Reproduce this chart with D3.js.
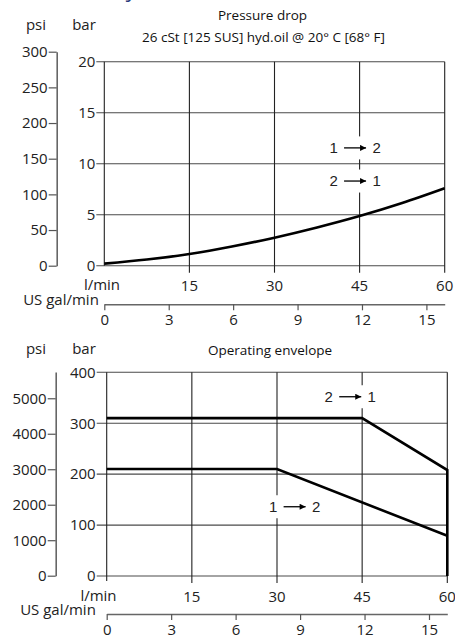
<!DOCTYPE html>
<html><head><meta charset="utf-8">
<script src="https://cdn.jsdelivr.net/npm/d3@7"></script>
<style>body{margin:0;background:#fff} svg{display:block}</style>
</head><body>
<script>
// ---------- data ----------
const flowLmin = [0, 7.5, 15, 22.5, 30, 37.5, 45, 52.5, 60];
const pressureDropBar = [0.2, 0.6, 1.15, 1.88, 2.75, 3.75, 4.87, 6.15, 7.6];
const env21Flow = [0, 45, 60, 60];
const env21Bar = [310, 310, 208, 0];
const env12Flow = [0, 30, 60];
const env12Bar = [210, 210, 79];
const xTicksLmin = [15, 30, 45, 60];
const galTicks = [0, 3, 6, 9, 12, 15];
const topBarTicks = [0, 5, 10, 15, 20];
const topPsiTicks = [0, 50, 100, 150, 200, 250, 300];
const botBarTicks = [0, 100, 200, 300, 400];
const botPsiTicks = [0, 1000, 2000, 3000, 4000, 5000];
const LPM_PER_GAL = 3.785;
const topTitle = "Pressure drop";
const topSubtitle = "26 cSt [125 SUS] hyd.oil @ 20° C [68° F]";
const botTitle = "Operating envelope";

const W = 455, H = 637;
const FONT = "'Open Sans', 'DejaVu Sans', sans-serif";
const NARROW = "'Liberation Sans Narrow', 'Liberation Sans', Arial, sans-serif";

const svg = d3.select("body").append("svg").attr("width", W).attr("height", H)
  .style("font-family", FONT);

svg.append("defs").append("marker")
  .attr("id", "ah").attr("viewBox", "0 0 10 10").attr("refX", 10).attr("refY", 5)
  .attr("markerWidth", 7).attr("markerHeight", 6).attr("markerUnits", "userSpaceOnUse")
  .attr("orient", "auto")
  .append("path").attr("d", "M0,0 L10,5 L0,10 z").attr("fill", "#000");

// blue fragment of heading above (cropped)
svg.append("text").attr("x", 128).attr("y", -3).attr("font-size", 22)
  .attr("font-style", "italic").attr("fill", "#2a3a7c").text("y");

function panel(cfg) {
  const g = svg.append("g");
  const x = d3.scaleLinear().domain([0, 60]).range(cfg.xr);
  const y = d3.scaleLinear().domain(cfg.barDom).range(cfg.yr);
  const psi = d3.scaleLinear().domain(cfg.psiDom).range(cfg.psiR);
  const gal = d3.scaleLinear().domain([0, 60 / LPM_PER_GAL]).range(cfg.xr);
  const y0 = y(0), yTop = y(cfg.barDom[1]);

  g.append("g").selectAll("line").data(cfg.barTicks).join("line")
    .attr("x1", x(0) - cfg.barTick).attr("x2", x(60))
    .attr("y1", d => y(d)).attr("y2", d => y(d))
    .attr("stroke", "#4a4a4a").attr("stroke-width", 1.1);
  g.append("g").selectAll("line").data([0, ...xTicksLmin]).join("line")
    .attr("x1", d => x(d)).attr("x2", d => x(d))
    .attr("y1", yTop).attr("y2", d => d === 0 ? y0 + cfg.zeroExt : y0 + 7)
    .attr("stroke", "#222").attr("stroke-width", 1.1);

  const barAx = d3.axisLeft(y).tickValues(cfg.barTicks).tickSize(0).tickPadding(cfg.barTick + 1)
    .tickFormat(d3.format("d"));
  const ba = g.append("g").attr("transform", `translate(${x(0)},0)`).call(barAx);
  ba.select(".domain").remove();
  ba.selectAll("text").attr("font-size", 15).attr("font-family", FONT).attr("fill", "#222");

  const psiAx = d3.axisLeft(psi).tickValues(cfg.psiTicks).tickSize(8).tickPadding(1).tickSizeOuter(0)
    .tickFormat(d3.format("d"));
  const pa = g.append("g").attr("transform", `translate(${cfg.psiX},0)`).call(psiAx);
  pa.select(".domain").attr("stroke", "#666").attr("stroke-width", 1.6);
  pa.selectAll(".tick line").attr("stroke", "#555").attr("stroke-width", 1.2);
  pa.selectAll("text").attr("font-size", 15).attr("font-family", FONT).attr("fill", "#222");

  g.append("g").selectAll("text").data(xTicksLmin).join("text")
    .attr("x", d => x(d)).attr("y", cfg.xLabY).attr("dy", "0.36em")
    .attr("text-anchor", "middle").attr("font-size", 15).attr("fill", "#222").text(d => d);
  g.append("text").attr("x", cfg.lminX).attr("y", cfg.xLabY - 1).attr("dy", "0.36em")
    .attr("text-anchor", "middle").attr("font-size", 15).attr("fill", "#222").text("l/min");

  const galAx = d3.axisBottom(gal).tickValues(galTicks).tickSize(6).tickPadding(4).tickSizeOuter(0)
    .tickFormat(d3.format("d"));
  const ga = g.append("g").attr("transform", `translate(0,${cfg.galY})`).call(galAx);
  ga.select(".domain").attr("stroke", "#666").attr("stroke-width", 1.6);
  ga.selectAll(".tick line").attr("stroke", "#555").attr("stroke-width", 1.2);
  ga.selectAll("text").attr("font-size", 15).attr("font-family", FONT).attr("fill", "#222");
  g.append("text").attr("x", cfg.galLabX).attr("y", cfg.galY).attr("dy", "0.05em")
    .attr("text-anchor", "middle").attr("font-size", 15).attr("fill", "#222").text("US gal/min");

  g.append("text").attr("x", 36).attr("y", cfg.unitY).attr("text-anchor", "middle")
    .attr("font-size", 15).attr("fill", "#222").text("psi");
  g.append("text").attr("x", 84).attr("y", cfg.unitY).attr("text-anchor", "middle")
    .attr("font-size", 15).attr("fill", "#222").text("bar");

  cfg.titles.forEach(t => g.append("text").attr("x", t[0]).attr("y", t[1])
    .attr("text-anchor", "middle").attr("font-size", 13.5).attr("fill", "#111").text(t[2]));

  return {g, x, y};
}

function arrowLabel(g, cx, cy, a, b) {
  const grp = g.append("g").attr("transform", `translate(${cx},${cy})`);
  grp.append("rect").attr("x", -31).attr("y", -11.5).attr("width", 62).attr("height", 23).attr("fill", "#fff");
  grp.append("text").attr("x", -21.5).attr("dy", "0.36em").attr("text-anchor", "middle")
    .attr("font-family", NARROW).attr("font-size", 15).attr("fill", "#222").text(a);
  grp.append("text").attr("x", 21.5).attr("dy", "0.36em").attr("text-anchor", "middle")
    .attr("font-family", NARROW).attr("font-size", 15).attr("fill", "#222").text(b);
  grp.append("line").attr("x1", -11).attr("x2", 11).attr("y1", 0).attr("y2", 0)
    .attr("stroke", "#000").attr("stroke-width", 1.3).attr("marker-end", "url(#ah)");
}

// ---------- top: pressure drop ----------
const pTop = panel({
  xr: [104.3, 444.7], barDom: [0, 20], yr: [265.7, 61.7],
  psiDom: [0, 300], psiR: [265.7, 51.7], psiX: 56.7,
  barTicks: topBarTicks, psiTicks: topPsiTicks, barTick: 8,
  zeroExt: 0, xLabY: 286, lminX: 102, galY: 304.3, galLabX: 61,
  unitY: 30, titles: [[262.5, 20, topTitle], [263.5, 42, topSubtitle]]
});
arrowLabel(pTop.g, pTop.x(44.2), pTop.y(11.55), "1", "2");
arrowLabel(pTop.g, pTop.x(44.2), pTop.y(8.3), "2", "1");
const pdData = flowLmin.map((f, i) => [f, pressureDropBar[i]]);
pTop.g.append("path").datum(pdData)
  .attr("d", d3.line().x(d => pTop.x(d[0])).y(d => pTop.y(d[1])).curve(d3.curveMonotoneX))
  .attr("fill", "none").attr("stroke", "#000").attr("stroke-width", 2.6);

// ---------- bottom: operating envelope ----------
const pBot = panel({
  xr: [106.7, 447.3], barDom: [0, 400], yr: [576, 372.3],
  psiDom: [0, 5740], psiR: [575.7, 372], psiX: 55.7,
  barTicks: botBarTicks, psiTicks: botPsiTicks, barTick: 10,
  zeroExt: 5, xLabY: 597, lminX: 98.5, galY: 614, galLabX: 58,
  unitY: 353.5, titles: [[270, 355, botTitle]]
});
arrowLabel(pBot.g, pBot.x(42.9), pBot.y(352), "2", "1");
arrowLabel(pBot.g, pBot.x(33.1), pBot.y(136), "1", "2");
const envLine = d3.line().x(d => pBot.x(d[0])).y(d => pBot.y(d[1]));
pBot.g.append("path").datum(env21Flow.map((f, i) => [f, env21Bar[i]]))
  .attr("d", envLine).attr("fill", "none").attr("stroke", "#000").attr("stroke-width", 2.6)
  .attr("stroke-linejoin", "miter");
pBot.g.append("path").datum(env12Flow.map((f, i) => [f, env12Bar[i]]))
  .attr("d", envLine).attr("fill", "none").attr("stroke", "#000").attr("stroke-width", 2.6);
</script>
</body></html>
